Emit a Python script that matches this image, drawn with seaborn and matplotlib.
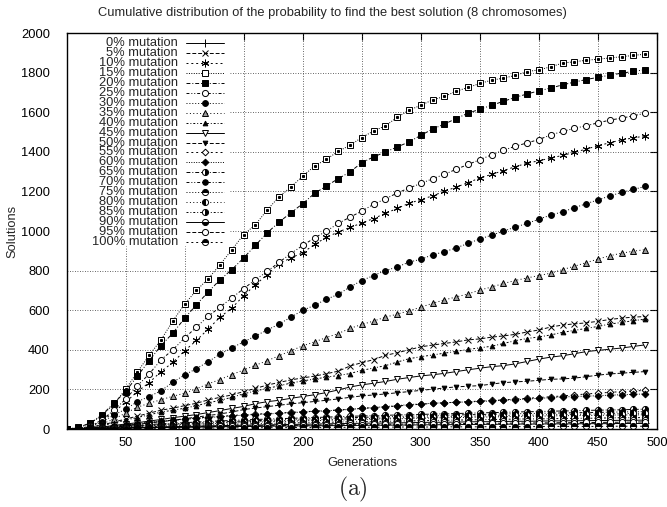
import matplotlib
matplotlib.use("Agg")
import matplotlib.pyplot as plt
from matplotlib.patches import Rectangle
import seaborn as sns

# Generations sampled every 10 steps
generations = list(range(0, 500, 10))

# Cumulative number of runs that found the best solution, per mutation rate
mut_0 = [0, 1, 2, 3, 4, 5, 6, 7, 8, 8,
         9, 10, 11, 11, 12, 13, 13, 14, 15, 15,
         16, 16, 17, 17, 18, 18, 19, 19, 20, 20,
         21, 21, 22, 22, 23, 23, 24, 24, 25, 25,
         25, 26, 26, 26, 27, 27, 27, 28, 28, 28]
mut_5 = [0, 2, 8, 20, 35, 50, 65, 80, 95, 105,
         118, 130, 147, 160, 172, 189, 205, 222, 235, 248,
         258, 267, 279, 292, 318, 335, 350, 372, 385, 400,
         415, 424, 432, 440, 450, 455, 464, 470, 478, 490,
         500, 515, 525, 531, 536, 544, 553, 560, 565, 568]
mut_10 = [0, 2, 12, 40, 85, 135, 189, 234, 290, 336,
          395, 447, 505, 565, 611, 673, 729, 780, 835, 864,
          890, 932, 968, 995, 1018, 1040, 1063, 1089, 1114, 1140,
          1158, 1178, 1200, 1222, 1244, 1268, 1286, 1305, 1325, 1342,
          1355, 1368, 1382, 1397, 1414, 1430, 1446, 1460, 1470, 1480]
mut_15 = [0, 6, 28, 68, 125, 200, 288, 372, 450, 545,
          631, 700, 759, 830, 905, 982, 1032, 1107, 1173, 1222,
          1277, 1328, 1362, 1402, 1433, 1472, 1505, 1531, 1574, 1610,
          1635, 1662, 1680, 1706, 1725, 1745, 1762, 1772, 1786, 1805,
          1814, 1829, 1848, 1855, 1862, 1868, 1874, 1880, 1887, 1893]
mut_20 = [0, 8, 30, 71, 130, 189, 267, 345, 421, 484,
          559, 628, 692, 754, 805, 864, 928, 991, 1045, 1092,
          1138, 1190, 1227, 1264, 1298, 1345, 1374, 1399, 1424, 1450,
          1483, 1515, 1540, 1568, 1595, 1615, 1635, 1655, 1675, 1692,
          1708, 1722, 1738, 1752, 1765, 1776, 1787, 1797, 1806, 1815]
mut_25 = [0, 2, 15, 45, 95, 150, 218, 278, 349, 400,
          459, 515, 569, 616, 662, 709, 754, 796, 842, 886,
          927, 965, 999, 1038, 1070, 1100, 1135, 1162, 1192, 1217,
          1240, 1264, 1286, 1312, 1336, 1360, 1385, 1408, 1428, 1445,
          1462, 1485, 1503, 1518, 1532, 1546, 1560, 1570, 1582, 1595]
mut_30 = [0, 2, 10, 35, 70, 100, 138, 164, 193, 236,
          273, 305, 340, 378, 410, 440, 470, 500, 530, 565,
          599, 625, 655, 680, 717, 750, 775, 800, 818, 843,
          857, 880, 895, 915, 937, 960, 979, 999, 1020, 1038,
          1060, 1080, 1097, 1117, 1138, 1157, 1177, 1195, 1210, 1225]
mut_35 = [0, 2, 8, 25, 50, 80, 110, 130, 148, 165,
          181, 203, 228, 250, 275, 298, 322, 345, 370, 395,
          420, 440, 462, 482, 508, 528, 545, 565, 580, 597,
          615, 635, 652, 667, 682, 702, 717, 735, 750, 763,
          775, 787, 805, 822, 840, 858, 875, 888, 898, 906]
mut_40 = [0, 2, 6, 18, 30, 45, 58, 72, 85, 95,
          105, 118, 132, 145, 160, 178, 192, 205, 218, 232,
          243, 252, 262, 270, 280, 296, 308, 320, 338, 355,
          365, 374, 383, 392, 402, 410, 418, 432, 446, 457,
          465, 475, 488, 498, 508, 518, 530, 538, 547, 555]
mut_45 = [0, 1, 4, 10, 18, 25, 32, 40, 48, 57,
          65, 73, 83, 93, 104, 114, 128, 138, 145, 155,
          164, 173, 184, 197, 212, 223, 231, 240, 251, 260,
          268, 274, 281, 290, 299, 307, 315, 320, 329, 341,
          353, 363, 370, 380, 391, 397, 403, 409, 417, 425]
mut_50 = [0, 1, 3, 7, 12, 18, 24, 30, 37, 44,
          52, 60, 68, 76, 86, 98, 106, 113, 120, 127,
          133, 139, 145, 152, 160, 167, 172, 177, 183, 189,
          195, 201, 207, 213, 216, 219, 227, 234, 238, 241,
          246, 251, 253, 257, 264, 272, 278, 282, 286, 290]
mut_55 = [0, 1, 4, 9, 15, 21, 27, 33, 39, 45,
          50, 55, 60, 64, 68, 72, 75, 78, 81, 84,
          87, 90, 93, 96, 100, 104, 108, 112, 116, 121,
          125, 129, 132, 135, 138, 141, 144, 147, 151, 155,
          159, 163, 167, 172, 177, 181, 185, 189, 192, 195]
mut_60 = [0, 1, 4, 9, 15, 21, 27, 33, 39, 44,
          49, 54, 58, 62, 66, 70, 73, 76, 79, 82,
          86, 89, 92, 95, 99, 104, 108, 113, 118, 123,
          127, 130, 133, 135, 137, 139, 142, 145, 148, 151,
          155, 158, 162, 164, 166, 168, 171, 173, 175, 177]
mut_65 = [0, 1, 4, 8, 12, 16, 20, 23, 26, 29,
          32, 35, 38, 41, 43, 46, 48, 50, 52, 54,
          56, 58, 60, 62, 64, 66, 67, 69, 71, 72,
          74, 75, 77, 78, 80, 81, 83, 84, 86, 87,
          88, 90, 91, 92, 94, 95, 96, 97, 99, 100]
mut_70 = [0, 1, 3, 7, 10, 14, 17, 20, 23, 26,
          28, 31, 33, 36, 38, 40, 42, 44, 46, 48,
          50, 52, 54, 55, 57, 59, 60, 62, 63, 65,
          66, 68, 69, 71, 72, 73, 75, 76, 77, 78,
          79, 80, 81, 82, 83, 84, 85, 86, 87, 88]
mut_75 = [0, 1, 3, 5, 8, 11, 14, 16, 19, 21,
          23, 25, 27, 29, 31, 33, 35, 36, 38, 39,
          41, 42, 44, 45, 47, 48, 49, 51, 52, 53,
          54, 56, 57, 58, 59, 60, 61, 62, 63, 64,
          65, 66, 67, 68, 68, 69, 70, 71, 71, 72]
mut_80 = [0, 1, 3, 6, 9, 12, 15, 18, 21, 23,
          26, 28, 30, 32, 34, 36, 38, 40, 41, 43,
          45, 46, 48, 49, 51, 52, 54, 55, 57, 58,
          59, 61, 62, 63, 64, 66, 67, 68, 69, 70,
          71, 72, 73, 74, 75, 76, 77, 78, 79, 80]
mut_85 = [0, 1, 2, 4, 6, 8, 10, 12, 14, 16,
          18, 19, 21, 22, 24, 25, 27, 28, 29, 30,
          32, 33, 34, 35, 36, 37, 38, 39, 40, 41,
          42, 43, 44, 45, 46, 47, 48, 49, 50, 51,
          51, 52, 53, 54, 54, 55, 56, 57, 57, 58]
mut_90 = [0, 1, 2, 3, 5, 6, 8, 9, 11, 12,
          13, 14, 16, 17, 18, 19, 20, 21, 22, 23,
          24, 25, 26, 27, 28, 29, 30, 30, 31, 32,
          33, 34, 34, 35, 36, 37, 37, 38, 39, 39,
          40, 41, 41, 42, 42, 43, 43, 44, 44, 45]
mut_95 = [0, 1, 2, 3, 4, 5, 6, 7, 8, 9,
          10, 11, 12, 13, 14, 15, 16, 17, 17, 18,
          19, 20, 20, 21, 22, 22, 23, 24, 24, 25,
          26, 26, 27, 27, 28, 28, 29, 29, 30, 30,
          31, 31, 32, 32, 33, 33, 34, 34, 35, 36]
mut_100 = [0, 0, 1, 1, 2, 2, 3, 3, 4, 4,
           4, 5, 5, 5, 6, 6, 6, 7, 7, 7,
           8, 8, 8, 8, 9, 9, 9, 9, 10, 10,
           10, 10, 11, 11, 11, 11, 12, 12, 12, 12,
           12, 13, 13, 13, 13, 13, 14, 14, 14, 14]

labels = ["0% mutation", "5% mutation", "10% mutation", "15% mutation",
          "20% mutation", "25% mutation", "30% mutation", "35% mutation",
          "40% mutation", "45% mutation", "50% mutation", "55% mutation",
          "60% mutation", "65% mutation", "70% mutation", "75% mutation",
          "80% mutation", "85% mutation", "90% mutation", "95% mutation",
          "100% mutation"]
series = [mut_0, mut_5, mut_10, mut_15, mut_20, mut_25, mut_30, mut_35,
          mut_40, mut_45, mut_50, mut_55, mut_60, mut_65, mut_70, mut_75,
          mut_80, mut_85, mut_90, mut_95, mut_100]

# gnuplot-like dash cycle (period 9)
dash_cycle = ["-", (0, (4, 2)), (0, (2, 3)), (0, (1, 1.5)), (0, (4, 2, 1, 2)),
              (0, (3, 2, 1, 2, 1, 2)), (0, (1, 2)), (0, (1, 2.5)),
              (0, (2, 2, 1, 2))]

# point styles per series
point_styles = [
    dict(marker="+", markersize=5.5, markerfacecolor="k"),
    dict(marker="x", markersize=4.2, markerfacecolor="k"),
    dict(marker=(6, 2, 0), markersize=5.5, markerfacecolor="k"),
    dict(marker="s", markersize=4.5, markerfacecolor="white"),
    dict(marker="s", markersize=4.2, markerfacecolor="k"),
    dict(marker="o", markersize=4.4, markerfacecolor="white"),
    dict(marker="o", markersize=4.2, markerfacecolor="k"),
    dict(marker="^", markersize=4.6, markerfacecolor="#9a9a9a"),
    dict(marker="^", markersize=3.4, markerfacecolor="k"),
    dict(marker="v", markersize=4.6, markerfacecolor="white"),
    dict(marker="v", markersize=3.4, markerfacecolor="k"),
    dict(marker="D", markersize=3.4, markerfacecolor="white"),
    dict(marker="D", markersize=3.4, markerfacecolor="k"),
    dict(marker="o", markersize=4.4, markerfacecolor="k", fillstyle="right", markerfacecoloralt="white"),
    dict(marker="o", markersize=4.0, markerfacecolor="k"),
    dict(marker="o", markersize=4.4, markerfacecolor="k", fillstyle="top", markerfacecoloralt="white"),
    dict(marker="o", markersize=4.4, markerfacecolor="k", fillstyle="left", markerfacecoloralt="white"),
    dict(marker="o", markersize=4.4, markerfacecolor="k", fillstyle="right", markerfacecoloralt="white"),
    dict(marker="o", markersize=4.4, markerfacecolor="k", fillstyle="bottom", markerfacecoloralt="white"),
    dict(marker="o", markersize=4.4, markerfacecolor="white"),
    dict(marker="o", markersize=4.4, markerfacecolor="k", fillstyle="top", markerfacecoloralt="white"),
]

sns.set_style("white")
plt.rcParams["font.family"] = ["Liberation Sans", "DejaVu Sans"]
plt.rcParams["mathtext.fontset"] = "cm"
FS = 9.3

W, H = 667, 507
fig = plt.figure(figsize=(W / 100, H / 100), dpi=100)
left_px, right_px, top_px, bottom_px = 66.5, 657, 33, 429
ax = fig.add_axes([left_px / W, 1 - bottom_px / H,
                   (right_px - left_px) / W, (bottom_px - top_px) / H])

xticks = list(range(50, 501, 50))
yticks = list(range(0, 2001, 200))
ax.set_xlim(0, 500)
ax.set_ylim(0, 2000)

# key box extent in axes fraction (grid is not drawn behind it)
key_right = 0.277
key_bottom = (bottom_px - 246) / (bottom_px - top_px)
key_bottom_val = key_bottom * 2000

grid_kw = dict(color="#333333", lw=0.6, ls=(0, (1, 2)), zorder=0.8)
for yv in yticks[1:-1]:
    ax.axhline(yv, xmin=key_right if yv > key_bottom_val else 0, xmax=1, **grid_kw)
for xv in xticks[:-1]:
    ax.axvline(xv, ymin=0, ymax=key_bottom if xv / 500 < key_right else 1, **grid_kw)

for vals, ls, ps in zip(series, dash_cycle * 3, point_styles):
    sns.lineplot(x=generations, y=vals, ax=ax, color="k", lw=0.7, linestyle=ls,
                 markeredgecolor="k", markeredgewidth=0.7, **ps)
    if vals is mut_15:
        ax.plot(generations, vals, ls="none", marker="s", ms=1.2, color="k")

ax.set_xticks(xticks)
ax.set_yticks(yticks)
ax.tick_params(direction="in", top=True, right=True, length=5, width=0.8,
               labelsize=FS, colors="k")
ax.tick_params(axis="y", pad=12)
ax.tick_params(axis="x", pad=6)
for s in ax.spines.values():
    s.set_linewidth(1.0)
    s.set_color("k")

ax.set_xlabel("Generations", fontsize=FS)
ax.set_ylabel("Solutions", fontsize=FS)
ax.xaxis.set_label_coords((362 - left_px) / (right_px - left_px),
                          (bottom_px - 463) / (bottom_px - top_px))
ax.xaxis.label.set_va("center")
ax.yaxis.set_label_coords((12 - left_px) / (right_px - left_px), 0.5)
ax.yaxis.label.set_va("center")

# opaque key in the upper-left corner
ax.add_patch(Rectangle((0, key_bottom), key_right, 1 - key_bottom,
                       transform=ax.transAxes, facecolor="white",
                       edgecolor="none", zorder=0.9))
row0 = 1 - (43.3 - top_px) / (bottom_px - top_px)
step = 9.92 / (bottom_px - top_px)
tx = (178 - left_px) / (right_px - left_px)
lx0 = (186 - left_px) / (right_px - left_px)
lx1 = (224 - left_px) / (right_px - left_px)
for i, (lab, ls, ps) in enumerate(zip(labels, dash_cycle * 3, point_styles)):
    yk = row0 - i * step
    ax.text(tx, yk, lab, transform=ax.transAxes, ha="right", va="center",
            fontsize=FS, zorder=5)
    ax.plot([lx0, (lx0 + lx1) / 2, lx1], [yk, yk, yk], transform=ax.transAxes,
            color="k", lw=0.7, linestyle=ls, markevery=[1], markeredgecolor="k",
            markeredgewidth=0.7, clip_on=False, zorder=5, **ps)

fig.text(332 / W, 1 - 13 / H,
         "Cumulative distribution of the probability to find the best solution (8 chromosomes)",
         ha="center", va="center", fontsize=FS)
fig.text(353 / W, 1 - 489 / H, r"$\mathrm{(a)}$", ha="center", va="center",
         fontsize=17)

fig.savefig("out.png", dpi=100)
